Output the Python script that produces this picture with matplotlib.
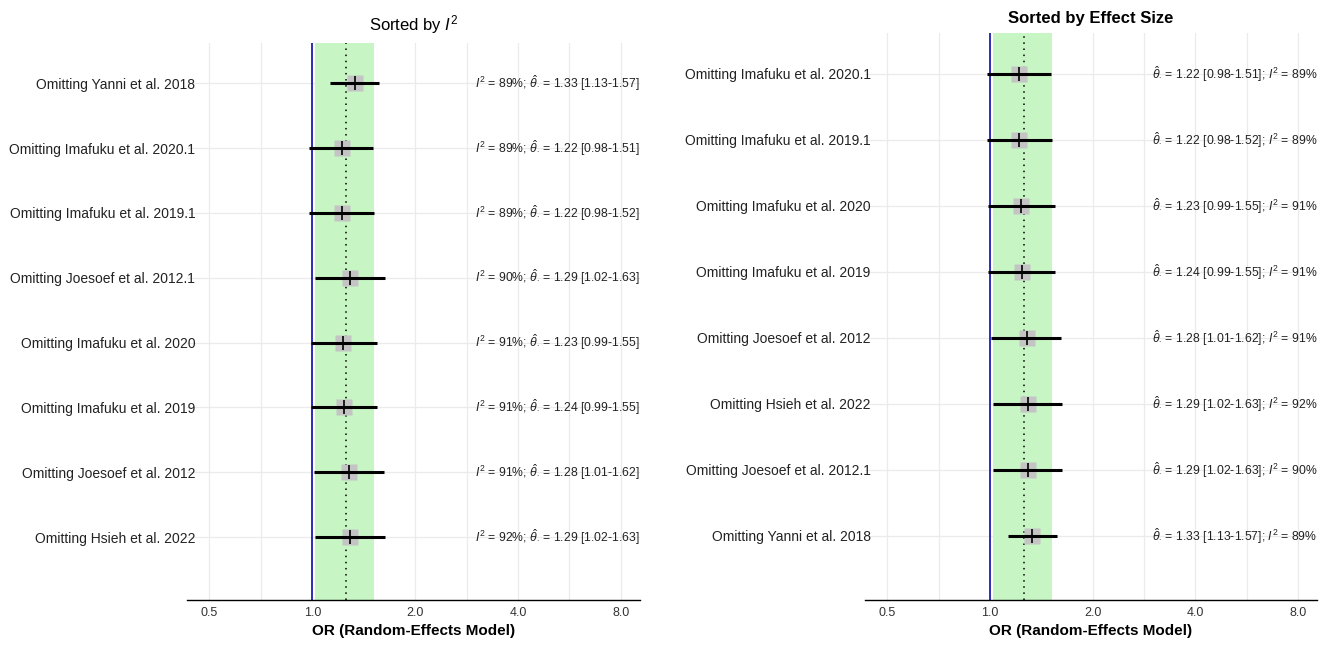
import numpy as np
import matplotlib
matplotlib.use("Agg")
import matplotlib.pyplot as plt

plt.rcParams['font.family'] = ['Liberation Sans', 'DejaVu Sans']
plt.rcParams['mathtext.fontset'] = 'custom'
plt.rcParams['mathtext.rm'] = 'Liberation Sans'
plt.rcParams['mathtext.it'] = 'Liberation Sans:italic'
plt.rcParams['mathtext.bf'] = 'Liberation Sans:bold'

# leave-one-out results, left panel order (sorted by I^2)
studies_i2 = ['Yanni et al. 2018', 'Imafuku et al. 2020.1', 'Imafuku et al. 2019.1',
              'Joesoef et al. 2012.1', 'Imafuku et al. 2020', 'Imafuku et al. 2019',
              'Joesoef et al. 2012', 'Hsieh et al. 2022']
est_i2 = [1.33, 1.22, 1.22, 1.29, 1.23, 1.24, 1.28, 1.29]
lo_i2 = [1.13, 0.98, 0.98, 1.02, 0.99, 0.99, 1.01, 1.02]
hi_i2 = [1.57, 1.51, 1.52, 1.63, 1.55, 1.55, 1.62, 1.63]
i2_i2 = [89, 89, 89, 90, 91, 91, 91, 92]

# right panel order (sorted by effect size)
studies_es = ['Imafuku et al. 2020.1', 'Imafuku et al. 2019.1', 'Imafuku et al. 2020',
              'Imafuku et al. 2019', 'Joesoef et al. 2012', 'Hsieh et al. 2022',
              'Joesoef et al. 2012.1', 'Yanni et al. 2018']
est_es = [1.22, 1.22, 1.23, 1.24, 1.28, 1.29, 1.29, 1.33]
lo_es = [0.98, 0.98, 0.99, 0.99, 1.01, 1.02, 1.02, 1.13]
hi_es = [1.51, 1.52, 1.55, 1.55, 1.62, 1.63, 1.63, 1.57]
i2_es = [89, 89, 91, 91, 91, 92, 90, 89]

pooled = 1.255
band = (1.02, 1.52)
xticks = [0.5, 1.0, 2.0, 4.0, 8.0]

W, H = 1334, 648
fig = plt.figure(figsize=(W / 100, H / 100), dpi=100)


def panel(rect, names, est, lo, hi, i2, title, bold, i2_first, pad, tpad):
    ax = fig.add_axes(rect)
    n = len(names)
    y = np.arange(n, 0, -1)
    ax.set_xscale('log')
    ax.set_xlim(0.43, 9.1)
    ax.set_ylim(0.03, n + 0.62)
    grid_x = [0.5 * 2 ** (k / 2) for k in range(9)]
    for g in grid_x:
        ax.axvline(g, color='#ebebeb', lw=0.9, zorder=0)
    for yy in y:
        ax.axhline(yy, color='#ebebeb', lw=0.9, zorder=0)
    ax.axvspan(band[0], band[1], color='#c8f5c4', lw=0, zorder=1)
    ax.axvline(1.0, color='#1f1fb4', lw=1.3, zorder=2)
    ax.axvline(pooled, color='black', lw=1.1, ls=(0, (1, 3)), zorder=2)
    ax.plot(est, y, 's', color='#c4c4c4', ms=11, mec='none', zorder=3)
    ax.hlines(y, lo, hi, color='black', lw=2.2, zorder=4)
    ax.plot(est, y, '|', color='black', ms=10, mew=1.2, zorder=5)
    for k in range(n):
        th = r'$\hat{\theta}_{\cdot}$ = %.2f [%.2f-%.2f]' % (est[k], lo[k], hi[k])
        ii = r'$I^2$ = %d%%' % i2[k]
        txt = ii + '; ' + th if i2_first else th + '; ' + ii
        ax.text(9.1, y[k], txt, ha='right', va='center', fontsize=8.8,
                color='#222222', zorder=6)
    ax.set_yticks(y)
    ax.set_yticklabels(['Omitting ' + s for s in names], fontsize=10, color='#222222')
    ax.tick_params(axis='y', length=0, pad=pad)
    ax.set_xticks(xticks)
    ax.set_xticklabels(['%.1f' % t for t in xticks], fontsize=9, color='#333333')
    ax.xaxis.set_minor_locator(matplotlib.ticker.NullLocator())
    ax.tick_params(axis='x', length=0, pad=5)
    for s in ['top', 'right', 'left']:
        ax.spines[s].set_visible(False)
    ax.spines['bottom'].set_linewidth(1.0)
    ax.set_xlabel('OR (Random-Effects Model)', fontsize=11, fontweight='bold', labelpad=4)
    ax.set_title(title, fontsize=12, fontweight='bold' if bold else 'normal', pad=tpad)
    return ax


panel([187 / W, 48 / H, 453 / W, 557 / H], studies_i2, est_i2, lo_i2, hi_i2, i2_i2,
      r'Sorted by $I^2$', False, True, -6, 9)
panel([865 / W, 48 / H, 452 / W, 567 / H], studies_es, est_es, lo_es, hi_es, i2_es,
      'Sorted by Effect Size', True, False, -4, 7)

fig.savefig('out.png', dpi=100)
